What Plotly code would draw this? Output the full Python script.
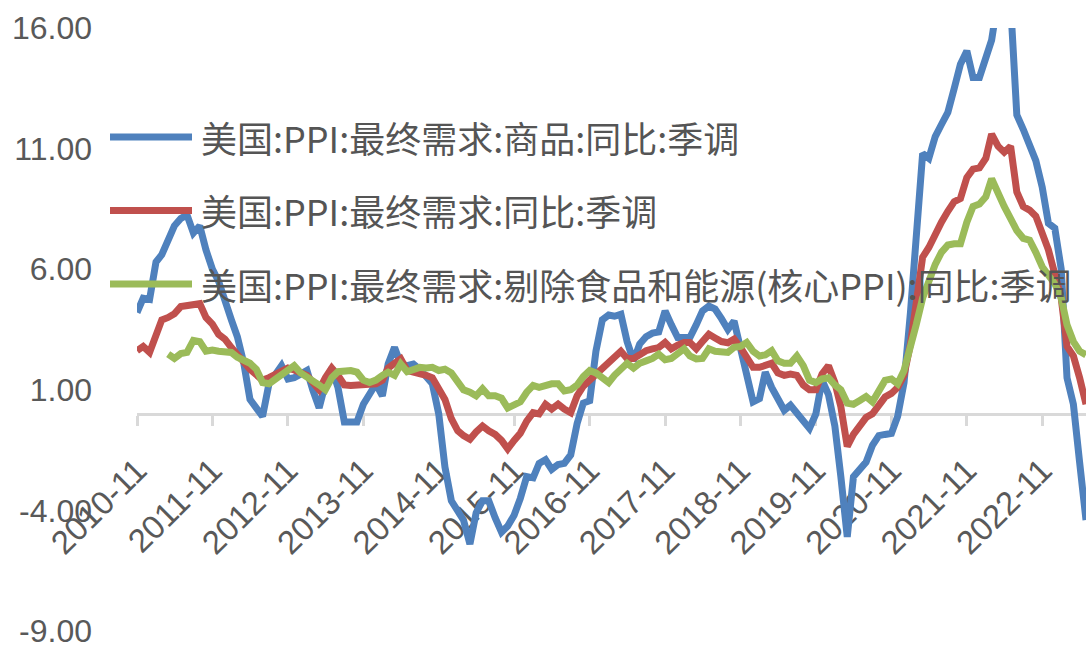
import pandas as pd
import plotly.graph_objects as go

# Monthly observations, 2010-11 .. 2023-06 (year-over-year %, seasonally adjusted)
months = pd.date_range("2010-11-01", "2023-06-01", freq="MS")

goods_yoy = [
    4.2, 4.8, 4.75, 6.3, 6.6, 7.3, 7.8, 8.1, 8.25, 7.5, 7.8, 6.8,
    6.0, 5.5, 4.6, 3.9, 3.2, 2.1, 0.6, 0.2, -0.1, 1.25, 1.6, 2.0,
    1.45, 1.5, 1.65, 1.8, 1.0, 0.25, 1.25, 1.9, 1.1, -0.33, -0.33, -0.33,
    0.4, 0.85, 1.25, 0.75, 2.07, 2.76, 2.07, 2.0, 2.07, 1.85, 1.5, 1.25,
    0.0, -2.2, -3.6, -4.1, -4.4, -5.4, -4.1, -3.6, -3.6, -4.3, -4.9, -4.65,
    -4.2, -3.5, -2.6, -2.65, -2.05, -1.9, -2.3, -2.1, -2.05, -1.7, -0.4, 0.45,
    0.55, 2.6, 3.9, 4.1, 4.05, 4.13, 3.0, 2.2, 2.9, 3.2, 3.35, 3.4,
    4.27, 3.7, 3.17, 3.17, 3.17, 3.7, 4.27, 4.47, 4.35, 3.95, 3.5, 3.85,
    2.76, 1.66, 0.5, 0.63, 1.73, 1.1, 0.6, 0.15, 0.36, 0.0, -0.3, -0.6,
    0.0, 1.4, 0.8, -0.5, -2.6, -5.1, -2.6, -2.3, -2.0, -1.3, -0.9, -0.85,
    -0.81, -0.1, 1.3, 4.2, 7.6, 10.8, 10.6, 11.5, 12.0, 12.5, 13.5, 14.5,
    15.05, 13.95, 13.95, 14.7, 15.5, 17.2, 17.6, 17.0, 12.4, 11.8, 11.1, 10.5,
    9.4, 7.9, 7.7, 6.0, 1.5, 0.4, -2.0, -4.4,
]

final_demand_yoy = [
    2.62, 2.8, 2.55, 3.35, 3.9, 4.0, 4.15, 4.45, 4.47, 4.5, 4.57, 4.0,
    3.72, 3.3, 3.1, 2.75, 2.5, 2.15, 1.85, 1.6, 1.4, 1.5, 1.65, 1.8,
    1.9, 1.82, 1.7, 1.6, 1.3, 1.0, 1.5, 1.9, 1.6, 1.2, 1.18, 1.18,
    1.2, 1.25, 1.25, 1.4, 1.9, 2.1, 2.28, 1.8, 1.75, 1.7, 1.6, 1.5,
    1.1, 0.6, -0.2, -0.7, -0.9, -1.05, -0.75, -0.5, -0.7, -0.85, -1.1, -1.45,
    -1.1, -0.8, -0.3, 0.05, 0.0, 0.4, 0.2, 0.4, 0.2, 0.05, 0.75, 1.15,
    1.4, 1.65, 1.85, 2.1, 2.35, 2.6, 2.3, 2.3, 2.45, 2.62, 2.7, 2.75,
    2.96, 2.7, 2.85, 2.96, 2.96, 2.7, 3.0, 3.3, 3.15, 3.0, 2.95, 3.1,
    2.75, 2.3, 1.93, 1.93, 2.0, 2.1, 1.7, 1.6, 1.65, 1.6, 1.2, 1.0,
    1.0, 1.66, 2.0, 1.3, 0.3, -1.35, -0.85, -0.5, -0.15, 0.0, 0.3, 0.7,
    0.85, 1.1, 1.6, 2.9, 4.6, 6.5, 6.9, 7.5, 7.95, 8.4, 8.8, 8.93,
    9.8, 10.15, 10.2, 10.6, 11.6, 11.1, 10.85, 11.1, 9.2, 8.6, 8.45, 8.2,
    7.55, 6.8, 5.8, 4.8, 2.8, 2.4, 1.5, 0.4,
]

core_yoy = [None] * 5 + [
    2.48, 2.3, 2.5, 2.55, 3.05, 3.0, 2.6,
    2.65, 2.6, 2.55, 2.55, 2.35, 2.25, 2.1, 1.85, 1.3, 1.25, 1.45, 1.65,
    1.85, 2.0, 1.7, 1.55, 1.35, 1.2, 1.0, 1.5, 1.75, 1.8, 1.8, 1.73,
    1.4, 1.3, 1.4, 1.6, 1.73, 1.6, 2.07, 1.75, 1.85, 1.93, 1.9, 1.93,
    1.8, 1.85, 1.7, 1.3, 1.0, 0.9, 0.75, 1.04, 0.75, 0.75, 0.65, 0.25,
    0.35, 0.5, 0.9, 1.18, 1.1, 1.2, 1.25, 1.25, 0.95, 1.0, 1.2, 1.55,
    1.8, 1.7, 1.5, 1.3, 1.6, 1.85, 2.1, 1.9, 2.1, 2.2, 2.3, 2.48,
    2.25, 2.3, 2.5, 2.7, 2.4, 2.28, 2.3, 2.7, 2.6, 2.55, 2.55, 2.76,
    2.8, 2.96, 2.6, 2.4, 2.45, 2.62, 2.2, 2.1, 2.1, 2.4, 2.0, 1.4,
    1.3, 1.45, 1.5, 1.2, 1.0, 0.45, 0.4, 0.56, 0.72, 0.5, 1.0, 1.39,
    1.45, 1.25, 1.8, 2.7, 3.7, 4.8, 5.6, 6.2, 6.7, 7.0, 7.05, 7.05,
    7.95, 8.6, 8.7, 9.0, 9.75, 9.07, 8.6, 8.1, 7.6, 7.28, 7.2, 6.7,
    6.1, 5.75, 5.4, 4.8, 3.7, 3.0, 2.6, 2.45,
]

series_names = [
    "美国:PPI:最终需求:商品:同比:季调",
    "美国:PPI:最终需求:同比:季调",
    "美国:PPI:最终需求:剔除食品和能源(核心PPI):同比:季调",
]
series_colors = ["#4f81bd", "#c0504d", "#9bbb59"]

y_ticks = [-9, -4, 1, 6, 11, 16]
x_ticks = pd.date_range("2010-11-01", "2022-11-01", freq="12MS")

assert len(goods_yoy) == len(final_demand_yoy) == len(core_yoy) == len(months)

W, H = 1086, 649
ML, MR, MT, MB = 137, 0, 28, 13
PW, PH = W - ML - MR, H - MT - MB


def px_x(px):
    return (px - ML) / PW


def px_y(py):
    return (H - MB - py) / PH


fig = go.Figure()
for name, vals, color in zip(series_names, [goods_yoy, final_demand_yoy, core_yoy], series_colors):
    fig.add_trace(go.Scatter(
        x=months, y=vals, mode="lines", name=name,
        line=dict(color=color, width=7),
        showlegend=False,
    ))

# legend drawn by hand: long swatch lines with labels to the right
legend_rows = [138, 212, 286]
for row_y, name, color in zip(legend_rows, series_names, series_colors):
    fig.add_shape(type="line", xref="paper", yref="paper",
                  x0=px_x(110), x1=px_x(192), y0=px_y(row_y), y1=px_y(row_y),
                  line=dict(color=color, width=7), layer="above")
    fig.add_annotation(xref="paper", yref="paper", x=px_x(199), y=px_y(row_y),
                       text=name, showarrow=False, xanchor="left", yanchor="middle",
                       font=dict(family="Noto Sans CJK SC", size=36, color="#555555"))

fig.update_layout(
    width=W, height=H,
    margin=dict(l=ML, r=MR, t=MT, b=MB, pad=0),
    paper_bgcolor="white", plot_bgcolor="white",
    showlegend=False,
)
fig.update_yaxes(
    range=[-9, 16], tickvals=y_ticks, ticktext=[f"{v:.2f}" for v in y_ticks],
    showgrid=False, zeroline=False, showline=False, ticks="",
    ticklabelstandoff=44, ticklabeloverflow="allow",
    tickfont=dict(family="Liberation Sans", size=32, color="#595959"),
)
fig.update_xaxes(
    type="date", range=[months[0], months[-1]],
    tickvals=x_ticks, ticktext=[d.strftime("%Y-%m") for d in x_ticks],
    tickangle=-45, showgrid=False, zeroline=False,
    anchor="free", position=9 / 25,
    showline=True, linecolor="#d9d9d9", linewidth=2.5,
    ticks="outside", ticklen=10, tickwidth=2.5, tickcolor="#d9d9d9",
    ticklabelstandoff=12, ticklabeloverflow="allow",
    layer="below traces",
    tickfont=dict(family="Liberation Sans", size=33, color="#595959"),
)

fig.write_html("out.html")
